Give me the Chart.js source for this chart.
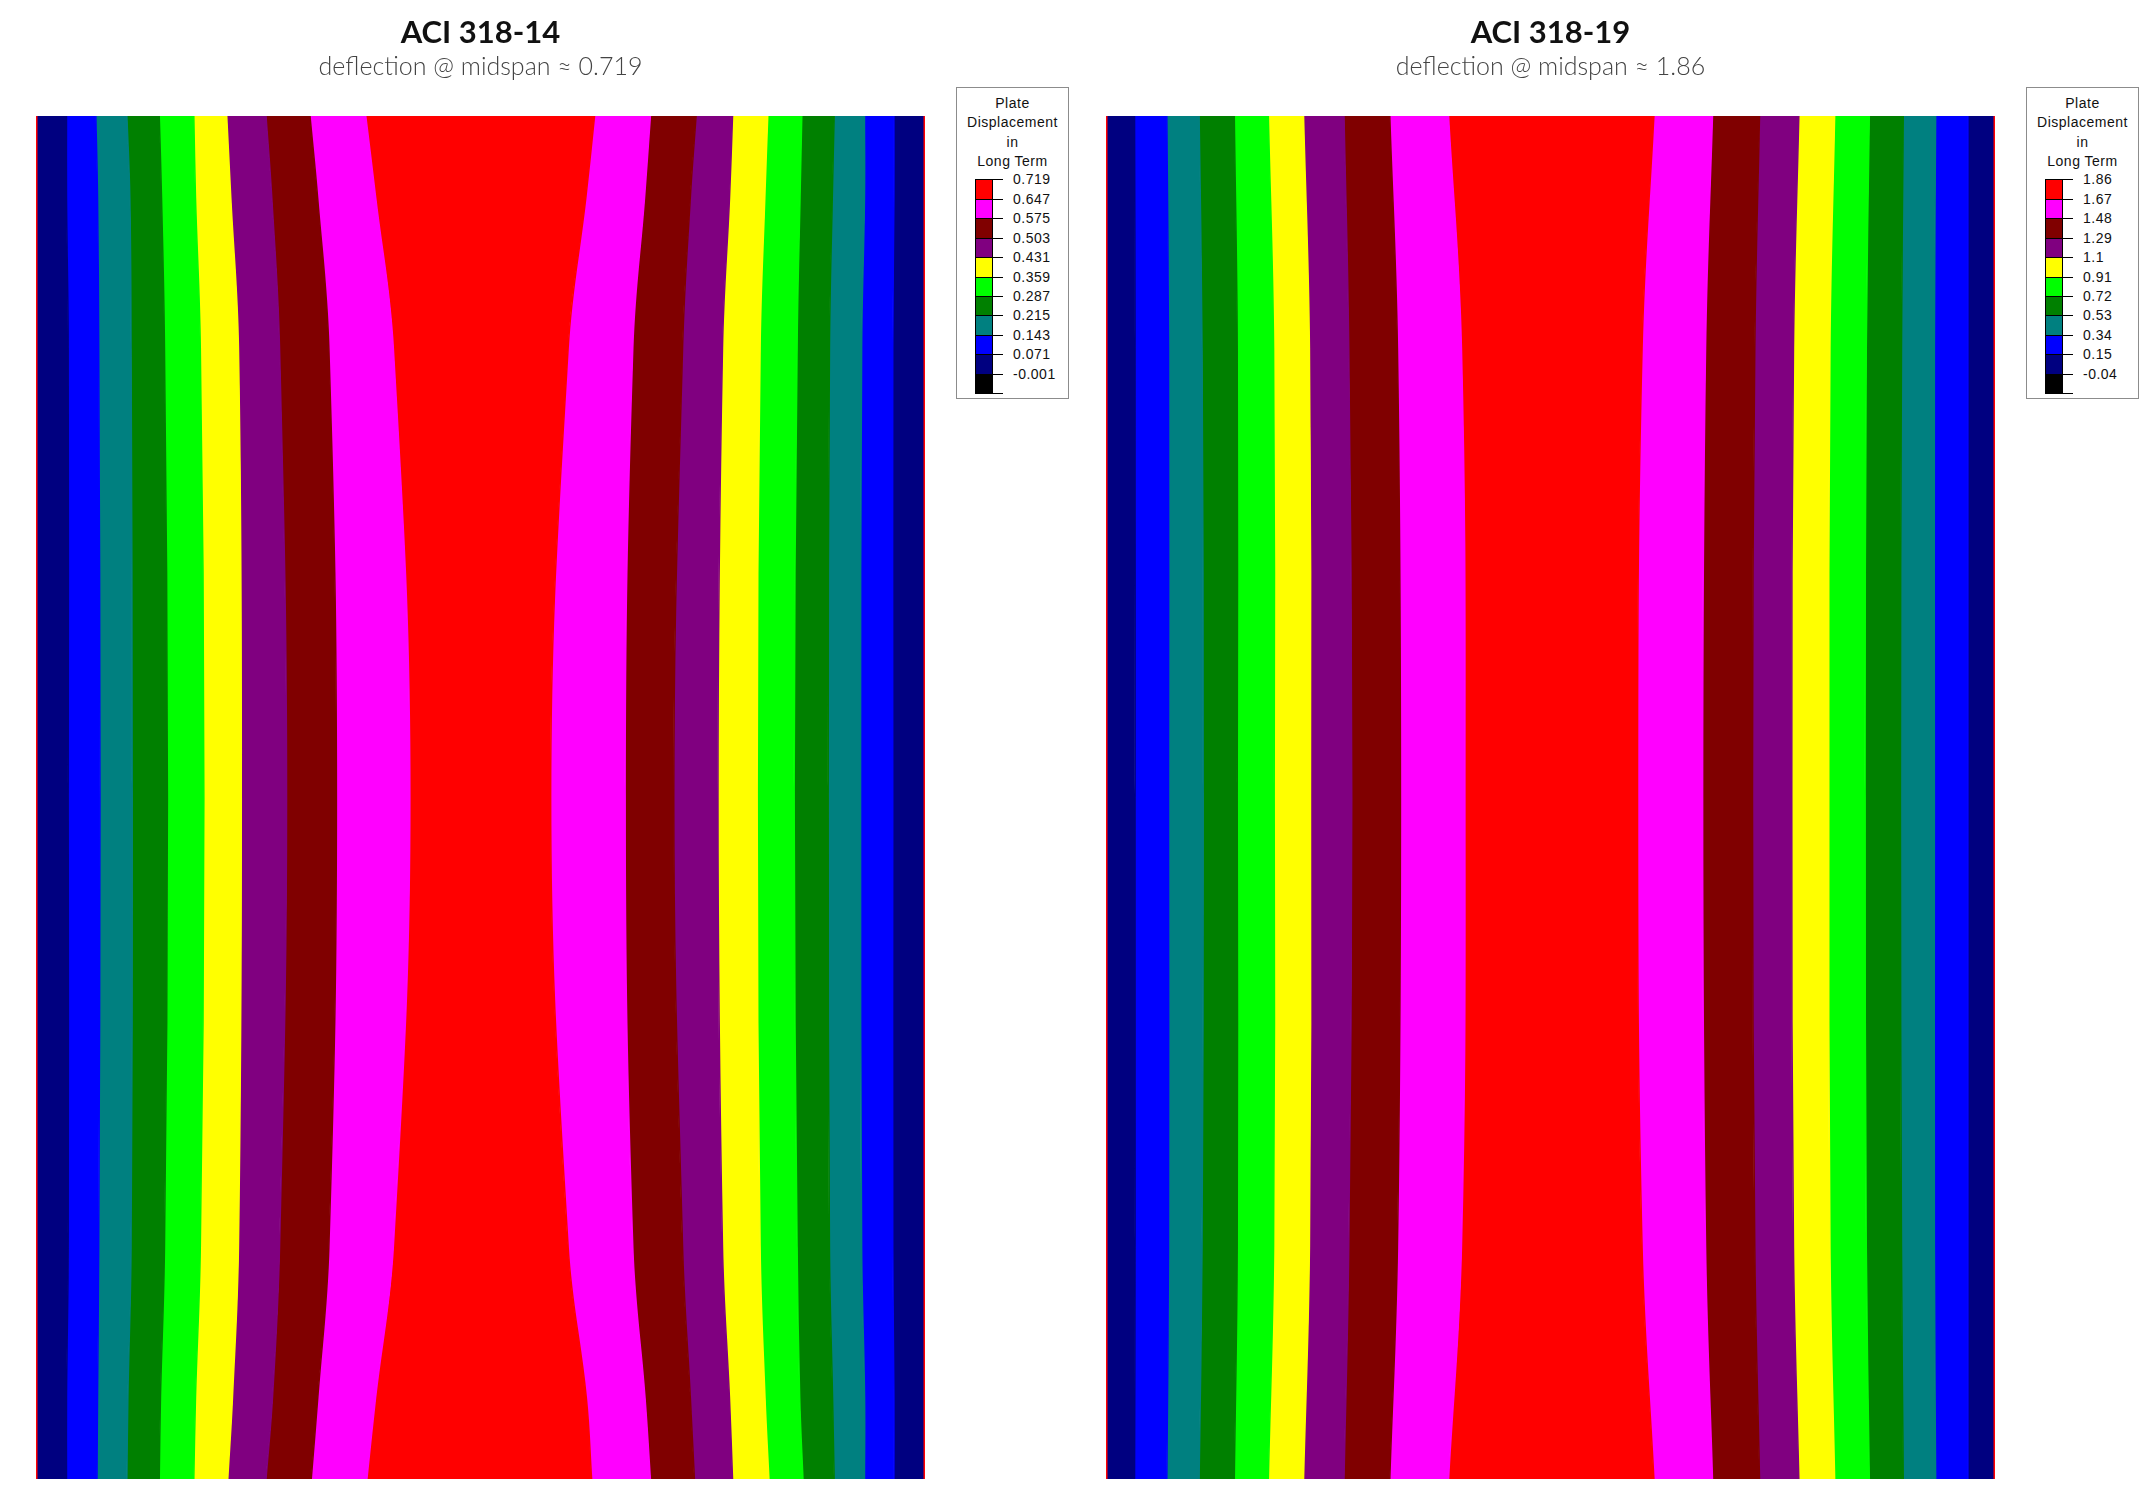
<!DOCTYPE html>
<html>
<head>
<meta charset="utf-8">
<script src="https://cdn.jsdelivr.net/npm/chart.js@4.4.0/dist/chart.umd.min.js"></script>
<style>
  body { margin: 0; background: #fff; width: 2142px; height: 1500px; position: relative; overflow: hidden; }
  canvas { position: absolute; top: 0; }
  #chart-14 { left: 0; }
  #chart-19 { left: 1070px; }
  .legend { position: absolute; top: 87px; width: 111px; height: 310px; border: 1px solid #8c8c8c; background: #fff;
            font-family: 'Liberation Sans', Arial, sans-serif; font-size: 14px; color: #111; letter-spacing: 0.5px; }
  .legend .head { position: absolute; left: 0; width: 100%; text-align: center; line-height: 16px; }
  .legend .cell { position: absolute; left: 18px; width: 18px; box-sizing: border-box; border: 1px solid #000; }
  .legend .tick { position: absolute; left: 36px; width: 10px; height: 1px; background: #000; }
  .legend .value { position: absolute; left: 56px; line-height: 16px; white-space: nowrap; }
</style>
</head>
<body>
<canvas id="chart-14" width="961" height="1500"></canvas>
<canvas id="chart-19" width="961" height="1500"></canvas>
<div class="legend" id="legend-14" style="left:956px"></div>
<div class="legend" id="legend-19" style="left:2026px"></div>
<script>
// band colours from left edge to right edge of the slab
const bandColors = ['#000080', '#0000ff', '#008080', '#008000', '#00ff00', '#ffff00', '#800080', '#800000', '#ff00ff',
    '#ff0000', '#ff00ff', '#800000', '#800080', '#ffff00', '#00ff00', '#008000', '#008080', '#0000ff', '#000080'];

// contour boundaries, % of slab width, read at a few heights (% of slab height)
const rowHeights14 = [100, 94, 83, 50, 17, 6, 0];
const row14Top = [3.43, 6.73, 10.22, 13.86, 17.75, 21.45, 25.87, 30.82, 37.09, 62.83, 69.11, 74.25, 78.35, 82.31, 86.14, 89.78, 93.19, 96.5];
const row14Upper = [3.43, 6.92, 10.55, 14.12, 17.94, 21.91, 26.52, 31.68, 38.21, 61.85, 68.45, 73.6, 78.01, 81.98, 85.94, 89.57, 93.19, 96.5];
const row14Quarter = [3.62, 7.05, 10.69, 14.45, 18.48, 22.77, 27.39, 32.94, 40.19, 59.86, 67.13, 72.73, 77.22, 81.45, 85.61, 89.25, 92.87, 96.37];
const row14Mid = [3.62, 7.19, 10.82, 14.78, 18.88, 23.09, 28.18, 33.79, 42.05, 57.89, 66.27, 71.74, 76.71, 81.12, 85.28, 89.11, 92.75, 96.37];
const row14LowQuarter = [3.62, 7.05, 10.69, 14.45, 18.48, 22.77, 27.39, 32.94, 40.19, 59.86, 67.13, 72.73, 77.22, 81.45, 85.61, 89.25, 92.87, 96.37];
const row14Lower = [3.43, 6.92, 10.33, 14.0, 17.94, 22.1, 26.6, 31.7, 38.2, 61.9, 68.5, 73.6, 78.0, 82.0, 85.9, 89.6, 93.2, 96.5];
const row14Bottom = [3.43, 6.86, 10.22, 13.86, 17.75, 21.57, 25.87, 30.96, 37.22, 62.5, 69.11, 74.06, 78.35, 82.44, 86.27, 89.78, 93.19, 96.5];

const rowHeights19 = [100, 83, 50, 17, 0];
const row19Top = [3.21, 6.84, 10.47, 14.43, 18.26, 22.22, 26.77, 31.92, 38.53, 61.63, 68.22, 73.51, 77.93, 81.96, 85.86, 89.68, 93.32, 96.95];
const row19Quarter = [3.27, 7.03, 10.8, 14.76, 18.85, 22.88, 27.3, 32.78, 39.98, 60.3, 67.44, 72.98, 77.33, 81.43, 85.52, 89.48, 93.18, 96.95];
const row19Mid = [3.27, 7.03, 10.93, 14.76, 18.92, 23.0, 27.64, 33.12, 40.37, 59.79, 67.11, 72.72, 77.14, 81.3, 85.39, 89.36, 93.18, 96.95];
const row19LowQuarter = [3.27, 7.03, 10.8, 14.76, 18.85, 22.88, 27.3, 32.78, 39.98, 60.3, 67.44, 72.98, 77.33, 81.43, 85.52, 89.48, 93.18, 96.95];
const row19Bottom = [3.21, 6.84, 10.47, 14.43, 18.26, 22.22, 26.77, 31.92, 38.53, 61.63, 68.22, 73.51, 77.93, 81.96, 85.86, 89.68, 93.32, 96.95];

// legend
const legendTitle = ['Plate', 'Displacement', 'in', 'Long Term'];
const legendColors = ['#ff0000', '#ff00ff', '#800000', '#800080', '#ffff00', '#00ff00', '#008000', '#008080', '#0000ff', '#000080', '#000000'];
const legendLabels14 = ['0.719', '0.647', '0.575', '0.503', '0.431', '0.359', '0.287', '0.215', '0.143', '0.071', '-0.001'];
const legendLabels19 = ['1.86', '1.67', '1.48', '1.29', '1.1', '0.91', '0.72', '0.53', '0.34', '0.15', '-0.04'];

function buildDatasets(heights, rows) {
    const edge = x => heights.map(y => ({ x, y }));
    const sets = [{ data: edge(0), borderColor: '#ff0000', borderWidth: 3, fill: false }];
    const count = rows[0].length;
    for (let b = 0; b < count; b++) {
        sets.push({
            data: heights.map((y, r) => ({ x: rows[r][b], y })),
            borderColor: bandColors[b],
            backgroundColor: bandColors[b],
            borderWidth: 1.5,
            fill: '-1'
        });
    }
    sets.push({ data: edge(100), borderColor: '#ff0000', backgroundColor: bandColors[count], borderWidth: 3, fill: '-1' });
    return sets;
}

function makeChart(id, title, subtitle, heights, rows) {
    return new Chart(document.getElementById(id).getContext('2d'), {
        type: 'line',
        data: { datasets: buildDatasets(heights, rows) },
        options: {
            indexAxis: 'y',
            responsive: false,
            animation: false,
            layout: { padding: { left: 36, right: 36, top: 0, bottom: 21 } },
            scales: {
                x: { type: 'linear', min: 0, max: 100, display: false },
                y: { type: 'linear', min: 0, max: 100, display: false }
            },
            elements: {
                point: { radius: 0 },
                line: { tension: 0.4 }
            },
            plugins: {
                legend: { display: false },
                tooltip: { enabled: false },
                title: {
                    display: true,
                    text: title,
                    color: '#111',
                    font: { family: 'Lato', size: 31, weight: 'bold' },
                    padding: { top: 14.4, bottom: 0 }
                },
                subtitle: {
                    display: true,
                    text: subtitle,
                    color: '#444',
                    font: { family: 'Lato', size: 25, weight: 300 },
                    padding: { top: 0, bottom: 34.4 }
                }
            }
        }
    });
}

function buildLegend(id, labels) {
    const box = document.getElementById(id);
    const headTops = [7, 26, 46, 65];
    const cellTop = 91.3, cellH = 19.45;
    let html = '';
    legendTitle.forEach((t, i) => {
        html += `<div class="head" style="top:${headTops[i]}px">${t}</div>`;
    });
    legendColors.forEach((c, i) => {
        html += `<div class="cell" style="top:${cellTop + i * cellH}px;height:${cellH + 1}px;background:${c}"></div>`;
    });
    for (let i = 0; i <= legendColors.length; i++) {
        const y = cellTop + i * cellH;
        html += `<div class="tick" style="top:${y}px"></div>`;
        if (i < labels.length) {
            html += `<div class="value" style="top:${y - 8}px">${labels[i]}</div>`;
        }
    }
    box.innerHTML = html;
}

makeChart('chart-14', 'ACI 318-14', 'deflection @ midspan ≈ 0.719', rowHeights14,
    [row14Top, row14Upper, row14Quarter, row14Mid, row14LowQuarter, row14Lower, row14Bottom]);
makeChart('chart-19', 'ACI 318-19', 'deflection @ midspan ≈ 1.86', rowHeights19,
    [row19Top, row19Quarter, row19Mid, row19LowQuarter, row19Bottom]);

buildLegend('legend-14', legendLabels14);
buildLegend('legend-19', legendLabels19);
</script>
</body>
</html>
